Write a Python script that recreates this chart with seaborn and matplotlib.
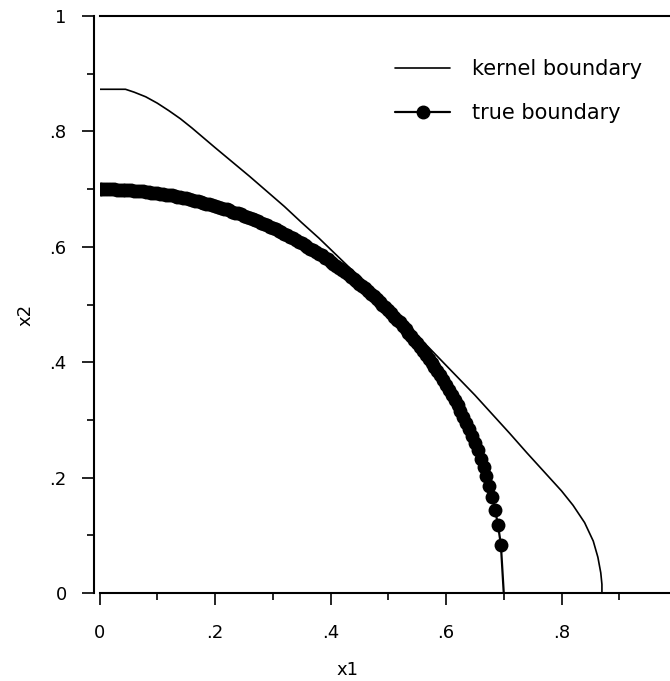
import matplotlib
matplotlib.use("Agg")
import matplotlib.pyplot as plt
from matplotlib.lines import Line2D
import seaborn as sns

# ---- data ----
kernel_x = [0.000, 0.045, 0.060, 0.080, 0.100, 0.120, 0.140, 0.160, 0.180, 0.200,
            0.230, 0.260, 0.290, 0.320, 0.350, 0.380, 0.410, 0.440, 0.470, 0.500,
            0.530, 0.560, 0.590, 0.620, 0.650, 0.680, 0.710, 0.740, 0.770, 0.800,
            0.820, 0.840, 0.855, 0.863, 0.868, 0.870, 0.870]
kernel_y = [0.873, 0.873, 0.868, 0.860, 0.849, 0.836, 0.822, 0.806, 0.789, 0.772,
            0.747, 0.722, 0.696, 0.670, 0.642, 0.615, 0.586, 0.557, 0.527, 0.498,
            0.468, 0.436, 0.405, 0.374, 0.343, 0.310, 0.277, 0.243, 0.210, 0.177,
            0.152, 0.122, 0.090, 0.062, 0.035, 0.015, 0.000]

true_x = [0.000, 0.005, 0.010, 0.015, 0.020, 0.025, 0.030, 0.035, 0.040, 0.045,
          0.050, 0.055, 0.060, 0.065, 0.070, 0.075, 0.080, 0.085, 0.090, 0.095,
          0.100, 0.105, 0.110, 0.115, 0.120, 0.125, 0.130, 0.135, 0.140, 0.145,
          0.150, 0.155, 0.160, 0.165, 0.170, 0.175, 0.180, 0.185, 0.190, 0.195,
          0.200, 0.205, 0.210, 0.215, 0.220, 0.225, 0.230, 0.235, 0.240, 0.245,
          0.250, 0.255, 0.260, 0.265, 0.270, 0.275, 0.280, 0.285, 0.290, 0.295,
          0.300, 0.305, 0.310, 0.315, 0.320, 0.325, 0.330, 0.335, 0.340, 0.345,
          0.350, 0.355, 0.360, 0.365, 0.370, 0.375, 0.380, 0.385, 0.390, 0.395,
          0.400, 0.405, 0.410, 0.415, 0.420, 0.425, 0.430, 0.435, 0.440, 0.445,
          0.450, 0.455, 0.460, 0.465, 0.470, 0.475, 0.480, 0.485, 0.490, 0.495,
          0.500, 0.505, 0.510, 0.515, 0.520, 0.525, 0.530, 0.535, 0.540, 0.545,
          0.550, 0.555, 0.560, 0.565, 0.570, 0.575, 0.580, 0.585, 0.590, 0.595,
          0.600, 0.605, 0.610, 0.615, 0.620, 0.625, 0.630, 0.635, 0.640, 0.645,
          0.650, 0.655, 0.660, 0.665, 0.670, 0.675, 0.680, 0.685, 0.690, 0.695,
          0.700]
true_y = [0.700, 0.700, 0.700, 0.700, 0.700, 0.700, 0.699, 0.699, 0.699, 0.699,
          0.698, 0.698, 0.697, 0.697, 0.696, 0.696, 0.695, 0.695, 0.694, 0.694,
          0.693, 0.692, 0.691, 0.690, 0.690, 0.689, 0.688, 0.687, 0.686, 0.685,
          0.684, 0.683, 0.681, 0.680, 0.679, 0.678, 0.676, 0.675, 0.674, 0.672,
          0.671, 0.669, 0.668, 0.666, 0.665, 0.663, 0.661, 0.659, 0.658, 0.656,
          0.654, 0.652, 0.650, 0.648, 0.646, 0.644, 0.642, 0.639, 0.637, 0.635,
          0.632, 0.630, 0.628, 0.625, 0.623, 0.620, 0.617, 0.615, 0.612, 0.609,
          0.606, 0.603, 0.600, 0.597, 0.594, 0.591, 0.588, 0.585, 0.581, 0.578,
          0.574, 0.571, 0.567, 0.564, 0.560, 0.556, 0.552, 0.548, 0.544, 0.540,
          0.536, 0.532, 0.528, 0.523, 0.519, 0.514, 0.510, 0.505, 0.500, 0.495,
          0.490, 0.485, 0.479, 0.474, 0.469, 0.463, 0.457, 0.451, 0.445, 0.439,
          0.433, 0.427, 0.420, 0.413, 0.406, 0.399, 0.392, 0.384, 0.377, 0.369,
          0.361, 0.352, 0.343, 0.334, 0.325, 0.315, 0.305, 0.295, 0.284, 0.272,
          0.260, 0.247, 0.233, 0.219, 0.203, 0.185, 0.166, 0.144, 0.118, 0.084,
          0.000]
true_marked = len(true_x) - 1  # last point (on the axis) carries no marker

tick_vals = [0.0, 0.2, 0.4, 0.6, 0.8, 1.0]
tick_labels = ["0", ".2", ".4", ".6", ".8", "1"]
minor_vals = [0.1, 0.3, 0.5, 0.7, 0.9]
series_names = ["kernel boundary", "true boundary"]
x_label = "x1"
y_label = "x2"

# ---- style ----
sns.set_style("ticks")
plt.rcParams["font.family"] = ["DejaVu Sans"]

W, H = 670, 681
fig = plt.figure(figsize=(W / 100, H / 100), dpi=100)
x0_px, x_span_px = 99.5, 577.5
ytop_px, ybot_px = 16.0, 593.0
ax = fig.add_axes([x0_px / W, 1 - ybot_px / H, x_span_px / W, (ybot_px - ytop_px) / H])

sns.lineplot(x=kernel_x, y=kernel_y, sort=False, estimator=None, color="black",
             lw=1.2, ax=ax)
sns.lineplot(x=true_x, y=true_y, sort=False, estimator=None, color="black",
             lw=1.6, ax=ax)
sns.scatterplot(x=true_x[:true_marked], y=true_y[:true_marked], s=100, color="black",
                edgecolor="black", linewidth=0, marker="o", ax=ax, zorder=3)

ax.set_xlim(0, 1)
ax.set_ylim(0, 1)
ax.set_xticks(tick_vals)
ax.set_xticklabels(tick_labels)
ax.set_yticks(tick_vals)
ax.set_yticklabels(tick_labels)
ax.set_xticks(minor_vals, minor=True)
ax.set_yticks(minor_vals, minor=True)

ax.tick_params(axis="both", which="major", length=8.6, width=1.2, color="black",
               labelsize=13, labelcolor="black")
ax.tick_params(axis="both", which="minor", length=5, width=1.2, color="black")
ax.tick_params(axis="x", which="major", pad=14)
ax.tick_params(axis="y", which="major", pad=11)

for side in ["left", "bottom", "top", "right"]:
    ax.spines[side].set_color("black")
    ax.spines[side].set_linewidth(1.5)
ax.spines["left"].set_position(("outward", 4))

ax.set_xlabel(x_label, fontsize=13, color="black")
ax.set_ylabel(y_label, fontsize=13, color="black")
ax.xaxis.set_label_coords(0.43, -0.133)
ax.yaxis.set_label_coords(-0.129, 0.482)
ax.xaxis.label.set_va("center")
ax.yaxis.label.set_va("center")

handles = [
    Line2D([], [], color="black", lw=1.2),
    Line2D([], [], color="black", lw=1.6, marker="o", markersize=9),
]
leg = ax.legend(handles, series_names, loc="upper left", bbox_to_anchor=(0.512, 0.925),
                frameon=False, fontsize=15, handlelength=2.64, handletextpad=1.05,
                borderpad=0, borderaxespad=0, labelspacing=1.15, numpoints=1)
for t in leg.get_texts():
    t.set_color("black")

fig.savefig("out.png", dpi=100)
